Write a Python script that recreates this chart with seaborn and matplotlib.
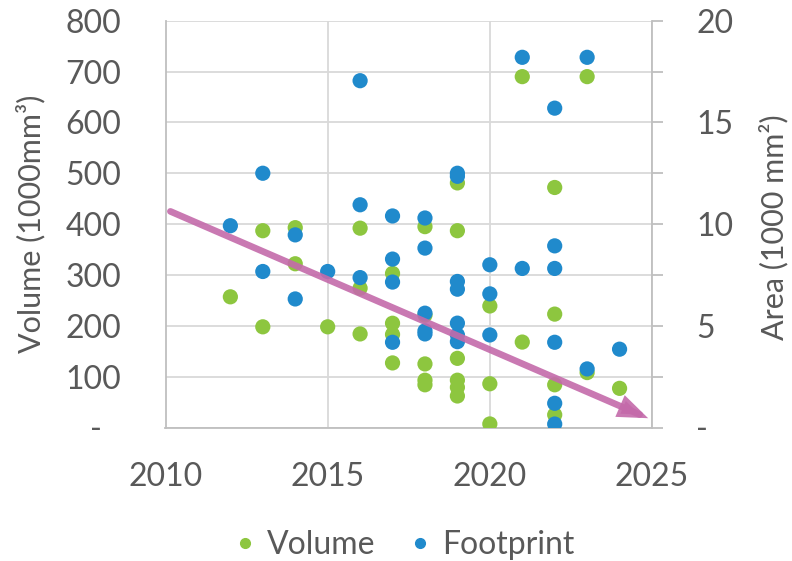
import numpy as np
import pandas as pd
import matplotlib
matplotlib.use("Agg")
import matplotlib.pyplot as plt
import matplotlib.transforms as mtransforms
from matplotlib.lines import Line2D
from matplotlib.ticker import MultipleLocator
import seaborn as sns

# ---- data -------------------------------------------------------------
volume_year = [2012, 2013, 2013, 2014, 2014, 2015, 2016, 2016, 2016,
               2017, 2017, 2017, 2017, 2018, 2018, 2018, 2018, 2018,
               2019, 2019, 2019, 2019, 2019, 2019, 2020, 2020, 2020,
               2021, 2021, 2022, 2022, 2022, 2022, 2023, 2023, 2024]
volume_k_mm3 = [257, 387, 198, 393, 322, 198, 392, 274, 184,
                303, 205, 183, 127, 395, 221, 125, 93, 84,
                481, 387, 136, 93, 79, 62, 239, 86, 7,
                690, 168, 472, 223, 84, 25, 690, 108, 77]

footprint_year = [2012, 2013, 2013, 2014, 2014, 2015, 2016, 2016, 2016,
                  2017, 2017, 2017, 2017, 2018, 2018, 2018, 2018, 2018,
                  2019, 2019, 2019, 2019, 2019, 2019, 2019, 2020, 2020, 2020,
                  2021, 2021, 2022, 2022, 2022, 2022, 2022, 2022,
                  2023, 2023, 2024]
footprint_k_mm2 = [9.92, 12.5, 7.67, 9.47, 6.32, 7.67, 17.05, 10.95, 7.37,
                   10.4, 8.28, 7.15, 4.19, 10.3, 8.82, 5.62, 4.75, 4.6,
                   12.5, 12.35, 7.18, 6.8, 5.13, 4.55, 4.22, 8.0, 6.57, 4.55,
                   18.2, 7.82, 15.7, 8.93, 7.82, 4.19, 1.19, 0.17,
                   18.2, 2.88, 3.85]

# trend arrow, in volume units
trend_year = [2010.15, 2025.0]
trend_volume = [425, 15]

x_ticks = [2010, 2015, 2020, 2025]
left_ticks = [0, 100, 200, 300, 400, 500, 600, 700, 800]
left_labels = ["-", "100", "200", "300", "400", "500", "600", "700", "800"]
right_ticks = [0, 5, 10, 15, 20]
right_labels = ["-", "5", "10", "15", "20"]

vol_df = pd.DataFrame({"year": volume_year, "value": volume_k_mm3})
fp_df = pd.DataFrame({"year": footprint_year, "value": footprint_k_mm2})

# ---- style ------------------------------------------------------------
sns.set_theme(style="white")
plt.rcParams["font.family"] = ["Lato", "DejaVu Sans"]
TEXT = "#595959"
GREEN = "#8DC63F"
BLUE = "#208ACC"
ARROW = "#C46AAA"
GRID = "#D9D9D9"
SPINE = "#BFBFBF"
FS = 23

fig = plt.figure(figsize=(7.92, 5.61), dpi=100)
W, H = 792, 561
x0, x1, y_top, y_bot = 165.5, 652, 20.7, 427.5
ax = fig.add_axes([x0 / W, 1 - y_bot / H, (x1 - x0) / W, (y_bot - y_top) / H])
ax2 = ax.twinx()

sns.scatterplot(data=vol_df, x="year", y="value", ax=ax, color=GREEN,
                s=120, linewidth=0, edgecolor="none", legend=False, zorder=3)
sns.scatterplot(data=fp_df, x="year", y="value", ax=ax2, color=BLUE,
                s=120, linewidth=0, edgecolor="none", legend=False, zorder=3)

ax.set_xlim(2010, 2025)
ax.set_ylim(0, 800)
ax2.set_ylim(0, 20)

ax.set_xticks(x_ticks)
ax.set_xticklabels([str(t) for t in x_ticks])
ax.set_yticks(left_ticks)
ax.set_yticklabels(left_labels)
ax2.set_yticks(right_ticks)
ax2.set_yticklabels(right_labels)
ax2.yaxis.set_minor_locator(MultipleLocator(2.5))

ax.grid(True, color=GRID, linewidth=1.3)
ax.set_axisbelow(True)

for a in (ax, ax2):
    for side in ("top", "left", "right", "bottom"):
        a.spines[side].set_visible(False)
ax.spines["left"].set_visible(True)
ax.spines["left"].set_color(SPINE)
ax.spines["left"].set_linewidth(1.3)
ax.spines["bottom"].set_visible(True)
ax.spines["bottom"].set_color(SPINE)
ax.spines["bottom"].set_linewidth(1.3)
ax2.spines["right"].set_visible(True)
ax2.spines["right"].set_color(SPINE)
ax2.spines["right"].set_linewidth(1.3)

ax.tick_params(axis="x", length=0, pad=25, labelsize=FS, labelcolor=TEXT)
ax.tick_params(axis="y", length=0, pad=32, labelsize=FS, labelcolor=TEXT)
ax2.tick_params(axis="y", which="both", direction="out", length=8,
                width=1.3, color=SPINE, pad=24, labelsize=FS, labelcolor=TEXT)
ax2.tick_params(axis="y", which="minor", labelright=False)

ax.set_xlabel("")
ax.set_ylabel("Volume (1000mm³)", fontsize=22, color=TEXT)
ax2.set_ylabel("Area (1000 mm²)", fontsize=22, color=TEXT)
ax.yaxis.set_label_coords(45 / W, 1 - 224 / H, transform=fig.transFigure)
ax2.yaxis.set_label_coords(759 / W, 1 - 227 / H, transform=fig.transFigure)

# the zero label sits left of the digit column
zero_lbl = ax.get_yticklabels()[0]
zero_lbl.set_transform(zero_lbl.get_transform() +
                       mtransforms.ScaledTranslation(-19 / 100, 0, fig.dpi_scale_trans))

# trend arrow drawn above both series
ax2.annotate("", xy=(trend_year[1], trend_volume[1]),
             xytext=(trend_year[0], trend_volume[0]),
             xycoords=ax.transData, textcoords=ax.transData,
             arrowprops=dict(arrowstyle="-|>,head_length=1.3,head_width=0.5",
                             mutation_scale=10, lw=4.8, color=ARROW, alpha=0.9,
                             shrinkA=0, shrinkB=3, joinstyle="miter"),
             annotation_clip=False, zorder=10)

handles = [Line2D([], [], marker="o", linestyle="none", color=GREEN, markersize=7),
           Line2D([], [], marker="o", linestyle="none", color=BLUE, markersize=7)]
fig.legend(handles, ["Volume", "Footprint"], loc="center",
           bbox_to_anchor=(405 / W, 1 - 545 / H), ncol=2, frameon=False,
           fontsize=FS, labelcolor=TEXT, handlelength=0.6, handletextpad=0.4,
           columnspacing=1.1, borderpad=0)

fig.savefig("out.png", dpi=100)
